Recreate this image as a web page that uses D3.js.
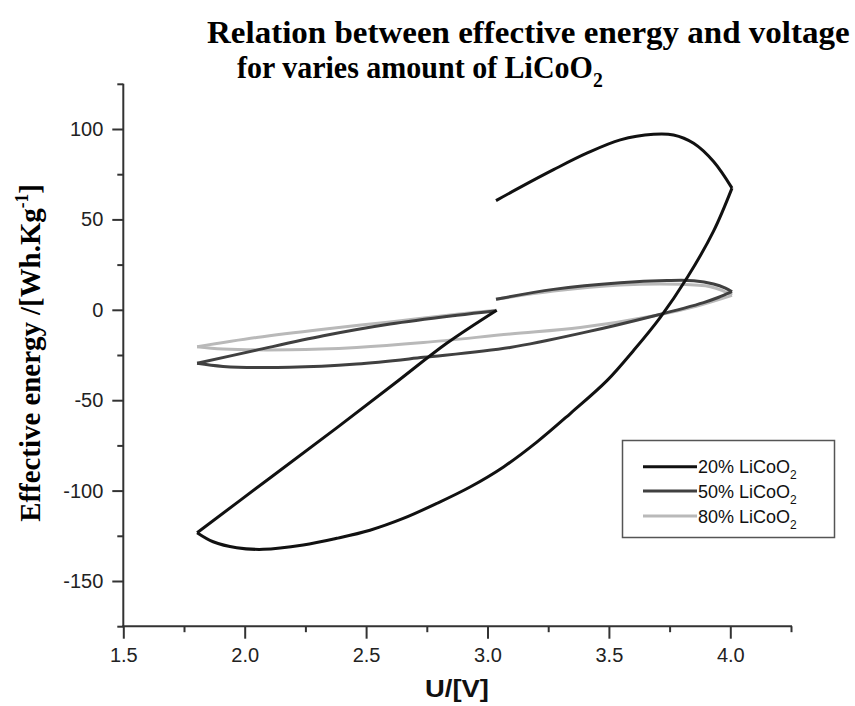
<!DOCTYPE html>
<html>
<head>
<meta charset="utf-8">
<script src="https://cdn.jsdelivr.net/npm/d3@7"></script>
<style>
html,body{margin:0;padding:0;background:#fff;}
svg{display:block;}
</style>
</head>
<body>
<svg id="chart" width="855" height="706"></svg>
<script>
// ---- data (U [V], effective energy [Wh/kg]) ----
const xTicksMajor = [1.5, 2.0, 2.5, 3.0, 3.5, 4.0];
const xTicksMinor = [1.75, 2.25, 2.75, 3.25, 3.75, 4.25];
const yTicksMajor = [-150, -100, -50, 0, 50, 100];
const yTicksMinor = [-175, -125, -75, -25, 25, 75, 125];
const seriesNames = ["20% LiCoO", "50% LiCoO", "80% LiCoO"];

const s20_a = [[3.035,60.4],[3.134,67.7],[3.272,77.5],[3.409,86.6],[3.547,94.0],[3.684,97.1],[3.766,96.7],[3.849,92.1],[3.931,82.0],[4.007,67.3]];
const s20_b = [[4.007,67.3],[3.931,43.5],[3.822,17.7],[3.711,-4.3],[3.601,-22.6],[3.492,-39.2],[3.340,-57.5],[3.203,-73.2],[3.066,-86.9],[2.928,-98.0],[2.791,-107.1],[2.653,-115.4],[2.516,-121.9],[2.379,-126.4],[2.241,-130.1],[2.076,-132.5],[1.967,-131.6],[1.870,-128.3],[1.804,-123.3]];
const s20_c = [[1.804,-123.3],[2.104,-93.0],[2.379,-65.3],[2.62,-40.5],[2.832,-18.5],[3.038,-0.2]];

const s50_a = [[3.035,5.8],[3.272,11.3],[3.547,15.0],[3.739,16.2],[3.85,16.1],[3.931,14.3],[3.98,12.0],[4.007,10.0]];
const s50_b = [[4.007,10.0],[3.95,6.8],[3.890,4.0],[3.684,-3.4],[3.40,-12.5],[3.093,-20.8],[2.736,-26.3],[2.461,-30.0],[2.186,-31.8],[1.911,-31.3],[1.804,-29.6]];
const s50_c = [[1.804,-29.6],[2.049,-22.3],[2.324,-14.4],[2.599,-7.9],[2.874,-3.0],[3.031,-0.6]];

const s80_a = [[3.035,5.8],[3.272,10.4],[3.547,13.7],[3.794,14.1],[3.918,12.8],[3.97,10.5],[4.007,8.0]];
const s80_b = [[4.007,8.0],[3.863,2.1],[3.698,-3.0],[3.382,-9.8],[3.093,-13.4],[2.736,-18.1],[2.461,-20.8],[2.186,-22.1],[1.911,-21.7],[1.804,-20.4]];
const s80_c = [[1.804,-20.4],[2.049,-15.3],[2.324,-10.7],[2.599,-6.7],[2.874,-2.4],[3.038,-0.2]];

const series = [
  {name: seriesNames[0], branches: [s20_a, s20_b, s20_c], color: "#111111"},
  {name: seriesNames[1], branches: [s50_a, s50_b, s50_c], color: "#404040"},
  {name: seriesNames[2], branches: [s80_a, s80_b, s80_c], color: "#b9b9b9"}
];

// ---- layout ----
const svg = d3.select("#chart");
const x = d3.scaleLinear().domain([1.5, 4.25]).range([123.3, 791]);
const y = d3.scaleLinear().domain([-175, 125]).range([626.2, 83.8]);
const axisColor = "#333";
const sans = "Arial, 'Liberation Sans', Helvetica, sans-serif";
const serif = "'Times New Roman', 'Liberation Serif', Times, serif";

function fitX(sel, target, ax) {
  const w = sel.node().getBBox().width;
  const s = target / w;
  sel.attr("transform", `translate(${ax},0) scale(${s},1) translate(${-ax},0)`);
}

// curves (draw light first so darker lie on top)
const line = d3.line().x(d => x(d[0])).y(d => y(d[1])).curve(d3.curveCatmullRom.alpha(0.5));
const gCurves = svg.append("g");
[2, 1, 0].forEach(i => {
  const s = series[i];
  s.branches.forEach(b => {
    gCurves.append("path")
      .attr("d", line(b))
      .attr("fill", "none")
      .attr("stroke", s.color)
      .attr("stroke-width", 3)
      .attr("stroke-linejoin", "round");
  });
});

// axes
const fmtX = d => d.toFixed(1);
const fmtY = d => String(d);
const xAxis = d3.axisBottom(x).tickValues(xTicksMajor).tickSize(12.5).tickPadding(9)
  .tickFormat(fmtX).tickSizeOuter(0);
const gx = svg.append("g").attr("transform", `translate(0,${y(-175)})`).call(xAxis);
const gxMinor = svg.append("g").attr("transform", `translate(0,${y(-175)})`)
  .call(d3.axisBottom(x).tickValues(xTicksMinor).tickSize(6).tickFormat("").tickSizeOuter(0));
gxMinor.select(".domain").remove();

const yAxis = d3.axisLeft(y).tickValues(yTicksMajor).tickSize(11).tickPadding(9)
  .tickFormat(fmtY).tickSizeOuter(0);
const gy = svg.append("g").attr("transform", `translate(${x(1.5)},0)`).call(yAxis);
const gyMinor = svg.append("g").attr("transform", `translate(${x(1.5)},0)`)
  .call(d3.axisLeft(y).tickValues(yTicksMinor).tickSize(6).tickFormat("").tickSizeOuter(0));
gyMinor.select(".domain").remove();

[gx, gxMinor, gy, gyMinor].forEach(g => {
  g.selectAll("path, line").attr("stroke", axisColor).attr("stroke-width", 2);
  g.selectAll("text").attr("font-family", sans).attr("font-size", 20).attr("fill", "#222");
});
gx.selectAll(".domain").attr("d", `M${x(1.5)-1},0H${x(4.25)+1}`);
gy.selectAll(".domain").attr("d", `M0,${y(-175)}V${y(125)}`);

// title
const t1 = svg.append("text").attr("x", 207).attr("y", 43)
  .attr("font-family", serif).attr("font-weight", "bold").attr("font-size", 32).attr("fill", "#000")
  .text("Relation between effective energy and voltage");
fitX(t1, 643, 207);
const t2 = svg.append("text").attr("x", 237).attr("y", 78)
  .attr("font-family", serif).attr("font-weight", "bold").attr("font-size", 32).attr("fill", "#000");
t2.append("tspan").text("for varies amount of LiCoO");
t2.append("tspan").attr("dy", 9).attr("font-size", 21).text("2");
fitX(t2, 366, 237);

// y label
const gyl = svg.append("g").attr("transform", `translate(40,353) rotate(-90)`);
const yl = gyl.append("text").attr("x", 0).attr("y", 0).attr("text-anchor", "middle")
  .attr("font-family", serif).attr("font-weight", "bold").attr("font-size", 30).attr("fill", "#000");
yl.append("tspan").text("Effective energy /[Wh.Kg");
yl.append("tspan").attr("dy", -12).attr("font-size", 18).text("-1");
yl.append("tspan").attr("dy", 12).text("]");
(function(){
  const w = yl.node().getBBox().width;
  yl.attr("transform", `scale(${338 / w},1)`);
})();

// x label
const xl = svg.append("text").attr("x", 457).attr("y", 697).attr("text-anchor", "middle")
  .attr("font-family", sans).attr("font-weight", "bold").attr("font-size", 24).attr("fill", "#111")
  .text("U/[V]");
fitX(xl, 64, 457);

// legend
const lg = svg.append("g");
lg.append("rect").attr("x", 622.5).attr("y", 440.5).attr("width", 212).attr("height", 97)
  .attr("fill", "#fff").attr("stroke", "#555").attr("stroke-width", 1.5);
const rowY = [466.7, 491, 516];
series.forEach((s, i) => {
  lg.append("line").attr("x1", 643).attr("x2", 697).attr("y1", rowY[i]).attr("y2", rowY[i])
    .attr("stroke", s.color).attr("stroke-width", 3);
  const tx = lg.append("text").attr("x", 698).attr("y", rowY[i] + 6.5)
    .attr("font-family", sans).attr("font-size", 18).attr("fill", "#111");
  tx.append("tspan").text(s.name);
  tx.append("tspan").attr("dy", 6).attr("font-size", 12).text("2");
});
</script>
</body>
</html>
